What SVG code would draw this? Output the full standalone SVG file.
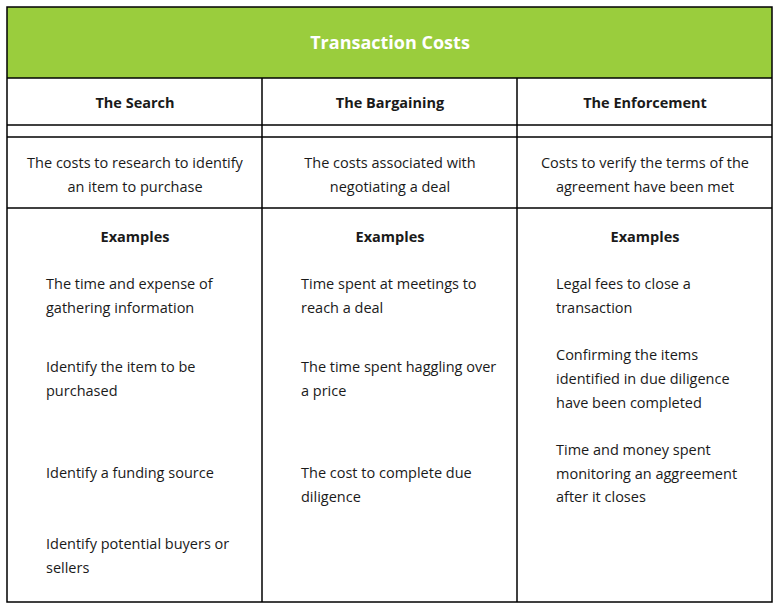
<svg xmlns="http://www.w3.org/2000/svg" width="779" height="608" viewBox="0 0 779 608">
<style>
text{font-family:"Open Sans","Liberation Sans",sans-serif;font-size:14.5px;fill:#1a1a1a}
.b{font-weight:bold}
.c{text-anchor:middle}
.t{fill:#fff;font-size:18px;font-weight:bold}
line{stroke:#000;stroke-width:1.5}
</style>
<rect width="779" height="608" fill="#fff"/>
<g id="header"><rect x="7" y="7" width="765" height="71" fill="#9acd3d"/>
<text class="t c" x="390" y="49">Transaction Costs</text></g>
<g id="grid">
<rect x="7" y="7" width="765" height="595" fill="none" stroke="#000" stroke-width="1.5"/>
<line x1="7" y1="78" x2="772" y2="78"/>
<line x1="7" y1="125" x2="772" y2="125"/>
<line x1="7" y1="137" x2="772" y2="137"/>
<line x1="7" y1="208" x2="772" y2="208"/>
<line x1="262" y1="78" x2="262" y2="602"/>
<line x1="517" y1="78" x2="517" y2="602"/>
</g>
<g id="search">
<text class="b c" x="135" y="108">The Search</text>
<text class="c" x="135" y="168">The costs to research to identify</text>
<text class="c" x="135" y="192">an item to purchase</text>
<text class="b c" x="135" y="242">Examples</text>
<text x="46" y="289">The time and expense of</text>
<text x="46" y="313">gathering information</text>
<text x="46" y="372">Identify the item to be</text>
<text x="46" y="396">purchased</text>
<text x="46" y="478">Identify a funding source</text>
<text x="46" y="549">Identify potential buyers or</text>
<text x="46" y="573">sellers</text>
</g>
<g id="bargaining">
<text class="b c" x="390" y="108">The Bargaining</text>
<text class="c" x="390" y="168">The costs associated with</text>
<text class="c" x="390" y="192">negotiating a deal</text>
<text class="b c" x="390" y="242">Examples</text>
<text x="301" y="289">Time spent at meetings to</text>
<text x="301" y="313">reach a deal</text>
<text x="301" y="372">The time spent haggling over</text>
<text x="301" y="396">a price</text>
<text x="301" y="478">The cost to complete due</text>
<text x="301" y="502">diligence</text>
</g>
<g id="enforcement">
<text class="b c" x="645" y="108">The Enforcement</text>
<text class="c" x="645" y="168">Costs to verify the terms of the</text>
<text class="c" x="645" y="192">agreement have been met</text>
<text class="b c" x="645" y="242">Examples</text>
<text x="556" y="289">Legal fees to close a</text>
<text x="556" y="313">transaction</text>
<text x="556" y="360">Confirming the items</text>
<text x="556" y="384">identified in due diligence</text>
<text x="556" y="408">have been completed</text>
<text x="556" y="455">Time and money spent</text>
<text x="556" y="479">monitoring an aggreement</text>
<text x="556" y="502">after it closes</text>
</g>
</svg>
